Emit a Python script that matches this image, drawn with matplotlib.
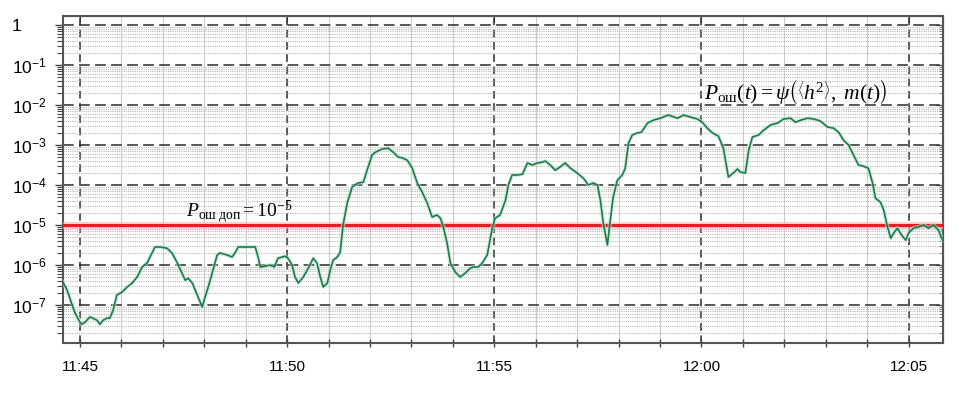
import numpy as np
import matplotlib.pyplot as plt
from matplotlib.ticker import FixedLocator, FuncFormatter

plt.rcParams['font.family'] = ['Liberation Sans', 'DejaVu Sans']
plt.rcParams['mathtext.fontset'] = 'custom'
plt.rcParams['mathtext.rm'] = 'Liberation Serif'
plt.rcParams['mathtext.it'] = 'Liberation Serif:italic'
plt.rcParams['mathtext.bf'] = 'Liberation Serif:bold'

# time in minutes after 11:45, error probability as log10
minutes = [-0.41, -0.31, -0.19, -0.12, 0.00, 0.05, 0.12, 0.24, 0.31, 0.41, 0.48, 0.56,
           0.65, 0.72, 0.80, 0.89, 1.01, 1.14, 1.26, 1.38, 1.50, 1.62, 1.74, 1.81,
           1.93, 2.10, 2.22, 2.34, 2.46, 2.54, 2.61, 2.71, 2.83, 2.95, 3.02, 3.09,
           3.21, 3.31, 3.38, 3.55, 3.67, 3.74, 3.82, 3.94, 4.11, 4.23, 4.30, 4.35,
           4.47, 4.59, 4.69, 4.78, 4.88, 4.95, 5.02, 5.12, 5.19, 5.27, 5.39, 5.51,
           5.63, 5.72, 5.80, 5.87, 5.97, 6.04, 6.11, 6.21, 6.28, 6.35, 6.45, 6.57,
           6.71, 6.84, 6.93, 7.05, 7.13, 7.29, 7.44, 7.56, 7.68, 7.80, 7.90, 8.02,
           8.14, 8.26, 8.38, 8.50, 8.62, 8.70, 8.77, 8.86, 8.94, 9.06, 9.18, 9.30,
           9.42, 9.49, 9.61, 9.71, 9.83, 9.95, 10.02, 10.14, 10.27, 10.34, 10.43, 10.56,
           10.68, 10.80, 10.92, 11.04, 11.16, 11.23, 11.35, 11.47, 11.59, 11.71, 11.84, 12.00,
           12.15, 12.27, 12.39, 12.49, 12.56, 12.63, 12.73, 12.80, 12.87, 12.97, 13.09, 13.16,
           13.24, 13.33, 13.45, 13.55, 13.70, 13.84, 14.01, 14.20, 14.42, 14.57, 14.73, 14.90,
           15.02, 15.14, 15.27, 15.41, 15.53, 15.65, 15.77, 15.87, 15.94, 16.06, 16.14, 16.23,
           16.38, 16.50, 16.67, 16.84, 16.98, 17.15, 17.27, 17.39, 17.56, 17.71, 17.87, 18.04,
           18.19, 18.31, 18.43, 18.55, 18.67, 18.79, 18.91, 19.03, 19.13, 19.20, 19.32, 19.40,
           19.49, 19.57, 19.64, 19.73, 19.83, 19.93, 20.00, 20.12, 20.24, 20.36, 20.48, 20.60,
           20.72, 20.82]
log_p = [-6.43, -6.63, -7.00, -7.20, -7.43, -7.48, -7.43, -7.30, -7.33, -7.38, -7.48, -7.38,
         -7.33, -7.33, -7.13, -6.75, -6.68, -6.55, -6.45, -6.30, -6.05, -5.95, -5.70, -5.55,
         -5.55, -5.58, -5.70, -5.93, -6.20, -6.38, -6.33, -6.45, -6.75, -7.05, -6.80, -6.57,
         -6.13, -5.75, -5.70, -5.75, -5.80, -5.70, -5.55, -5.55, -5.55, -5.55, -5.80, -6.05,
         -6.03, -6.00, -6.05, -5.83, -5.80, -5.78, -5.83, -6.00, -6.30, -6.45, -6.30, -6.08,
         -5.83, -5.95, -6.30, -6.55, -6.45, -6.13, -5.88, -5.80, -5.68, -5.00, -4.45, -4.05,
         -3.95, -3.93, -3.63, -3.25, -3.18, -3.10, -3.08, -3.18, -3.30, -3.33, -3.38, -3.58,
         -3.95, -4.18, -4.45, -4.80, -4.75, -4.83, -5.05, -5.45, -5.95, -6.18, -6.30, -6.20,
         -6.08, -6.05, -6.05, -5.95, -5.75, -5.08, -4.83, -4.75, -4.38, -4.00, -3.75, -3.75,
         -3.73, -3.45, -3.50, -3.45, -3.43, -3.40, -3.50, -3.63, -3.55, -3.45, -3.58, -3.70,
         -3.83, -4.00, -3.95, -4.00, -4.38, -4.95, -5.50, -4.88, -4.30, -3.88, -3.75, -3.58,
         -2.95, -2.75, -2.70, -2.68, -2.45, -2.38, -2.33, -2.25, -2.33, -2.25, -2.30, -2.35,
         -2.43, -2.58, -2.70, -2.78, -3.08, -3.80, -3.70, -3.60, -3.68, -3.70, -3.13, -2.80,
         -2.75, -2.63, -2.50, -2.45, -2.35, -2.33, -2.43, -2.38, -2.33, -2.35, -2.40, -2.55,
         -2.58, -2.68, -2.88, -3.00, -3.25, -3.50, -3.53, -3.58, -3.95, -4.33, -4.43, -4.63,
         -5.05, -5.33, -5.20, -5.08, -5.25, -5.38, -5.20, -5.08, -5.05, -5.00, -5.08, -5.00,
         -5.13, -5.38]
p_err = 10.0 ** np.array(log_p)

p_allowed = 1e-5
decades = list(range(-7, 1))
major_minutes = [0, 5, 10, 15, 20]
x_range = (-0.41, 20.83)
y_range = (10 ** -7.95, 10 ** 0.225)


def time_label(v, pos=None):
    total = 11 * 60 + 45 + int(round(v))
    return f"{total // 60}:{total % 60:02d}"


def power_label(v, pos=None):
    k = int(round(np.log10(v)))
    if k == 0:
        return '1'
    return r'$\mathregular{10^{%d}}$' % k


fig = plt.figure(figsize=(9.59, 3.99), dpi=100)
ax = fig.add_axes([63 / 959, 1 - 343 / 399, 880 / 959, 327 / 399])
ax.set_yscale('log')
ax.set_xlim(*x_range)
ax.set_ylim(*y_range)

y_major = [10.0 ** k for k in decades]
y_minor = [s * 10.0 ** k for k in range(-8, 1) for s in range(2, 10)]
ax.yaxis.set_major_locator(FixedLocator(y_major))
ax.yaxis.set_minor_locator(FixedLocator(y_minor))
ax.yaxis.set_major_formatter(FuncFormatter(power_label))
ax.xaxis.set_major_locator(FixedLocator(major_minutes))
ax.xaxis.set_minor_locator(FixedLocator(np.arange(0, 21)))
ax.xaxis.set_major_formatter(FuncFormatter(time_label))

# grid
ax.grid(which='minor', axis='x', color='#cccccc', lw=0.8)
ax.grid(which='minor', axis='y', color='#b8b8b8', ls=(0, (1, 1)), lw=0.8)
ax.grid(which='major', axis='y', color='#2a2a2a', ls=(0, (7, 3.5)), lw=1.1)
ax.grid(which='major', axis='x', color='#2a2a2a', ls=(0, (5, 3)), lw=1.1)
ax.set_axisbelow(True)

for s in ax.spines.values():
    s.set_color('#555555')
    s.set_linewidth(1.5)

ax.tick_params(axis='y', which='major', direction='out', length=6, width=1, color='#444',
               labelsize=12.5, pad=31)
ax.tick_params(axis='y', which='minor', direction='out', length=4, width=0.8, color='#444')
ax.tick_params(axis='x', which='both', direction='inout', length=6, width=1, color='#444',
               labelsize=11, pad=9)
for lab in ax.get_yticklabels():
    lab.set_horizontalalignment('left')

sec_y = ax.secondary_yaxis('right')
sec_y.yaxis.set_major_locator(FixedLocator(y_major))
sec_y.yaxis.set_minor_locator(FixedLocator(y_minor))
sec_y.tick_params(which='both', direction='in', labelright=False, color='#444')
sec_y.tick_params(which='major', length=5)
sec_y.tick_params(which='minor', length=3)
sec_x = ax.secondary_xaxis('top')
sec_x.xaxis.set_major_locator(FixedLocator(major_minutes))
sec_x.xaxis.set_minor_locator(FixedLocator(np.arange(0, 21)))
sec_x.tick_params(which='both', direction='in', length=4, labeltop=False, color='#444')

# threshold and curve
ax.axhline(p_allowed, color='#f5b3b8', lw=5, alpha=0.6, zorder=3)
ax.axhline(p_allowed, color='#e01f26', lw=2.2, zorder=4)
ax.plot(minutes, p_err, color='#bfe3cf', lw=3, alpha=0.6, zorder=4)
ax.plot(minutes, p_err, color='#1c7a4b', lw=1.2, zorder=5)

ax.text(2.56, 10 ** -4.68, r'$P_{\mathrm{ош\ доп}}=10^{-5}$', fontsize=14,
        ha='left', va='center', zorder=6)
ax.text(15.05, 10 ** -1.68,
        r'$P_{\mathrm{ош}}(t)=\psi\left(\left\langle h^2\right\rangle,\ m(t)\right)$',
        fontsize=15.5, ha='left', va='center', zorder=6)

fig.savefig('out.png', dpi=100)
